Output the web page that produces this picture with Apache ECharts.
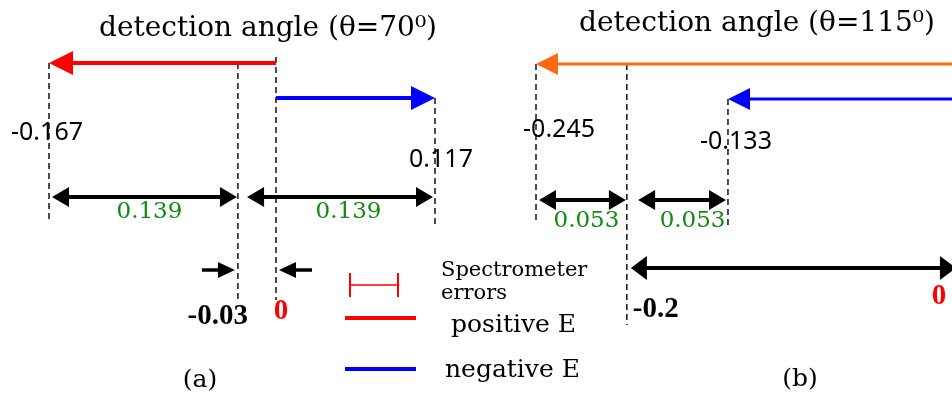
<!DOCTYPE html>
<html><head><meta charset="utf-8">
<script src="https://cdn.jsdelivr.net/npm/echarts@6/dist/echarts.min.js"></script>
<style>html,body{margin:0;padding:0;background:#fff}#c{width:952px;height:396px}</style>
</head><body><div id="c"></div>
<script>
// ---------------- data ----------------
const panelNames = ['(a)', '(b)'];
const detectionAngles = [70, 115];           // degrees
const positiveEdge = [-0.167, -0.245];       // end of positive-E arrow
const negativeEdge = [0.117, -0.133];        // end of negative-E arrow
const spectrometerError = [0.139, 0.053];    // width of error span
const shiftValues = [-0.03, -0.2];           // labelled shift
const zeroValue = [0, 0];

// ---------------- style / layout ----------------
const SERIF = "'DejaVu Serif', serif";
const SANS = "'Noto Sans', sans-serif";
const BSERIF = "'Liberation Serif', serif";
const RED = '#ff0000', BLUE = '#0000ff', ORANGE = '#ff6a10', GREEN = '#138a13';
const posColor = [RED, ORANGE];

// panel (b): the axis stops just short of 0 so the zero arrow tip runs off the right edge, as in the figure
const LAYOUT = [
  { left: 49, width: 386, min: positiveEdge[0], max: negativeEdge[0],
    rowPos: 63, rowNeg: 98, rowErr: 197, rowSmall: 270,
    dPos: [63, 220], dMeet: [63, 300], dZero: [57, 300], dNeg: [98, 225],
    posLab: [-2, 133], negLab: [6, 160], errLabY: 212, errDx: [6, 8], eW: 4, eHead: [24, 12],
    titleX: 268, titleY: 29, nameX: 200, nameY: 380 },
  { left: 536, width: 416, min: positiveEdge[1], max: zeroValue[1] - 0.0023,
    rowPos: 64, rowNeg: 99, rowErr: 200, rowLong: 268,
    dPos: [64, 222], dMeet: [64, 325], dZero: null, dNeg: [99, 228],
    posLab: [23, 130], negLab: [8, 142], errLabY: 221, errDx: [5, 10], eW: 3, eHead: [22, 11],
    titleX: 757, titleY: 24, nameX: 800, nameY: 379 }
];

function build(p) {
  const L = LAYOUT[p];
  const pos = positiveEdge[p], neg = negativeEdge[p], err = spectrometerError[p], zero = zeroValue[p];
  const meet = pos + err, negStart = neg - err;
  const origin = p === 0 ? zero : L.max;
  const m = [];
  m.push({k: 'dash', x: pos, y1: L.dPos[0], y2: L.dPos[1]});
  m.push({k: 'dash', x: meet, y1: L.dMeet[0], y2: L.dMeet[1]});
  if (L.dZero) m.push({k: 'dash', x: zero, y1: L.dZero[0], y2: L.dZero[1]});
  m.push({k: 'dash', x: neg, y1: L.dNeg[0], y2: L.dNeg[1]});
  m.push({k: 'arrow', x1: origin, x2: pos, y: L.rowPos, color: posColor[p], w: L.eW, head: L.eHead});
  m.push({k: 'arrow', x1: origin, x2: neg, y: L.rowNeg, color: BLUE, w: L.eW, head: L.eHead});
  m.push({k: 'arrow', x1: pos, x2: meet, y: L.rowErr, color: '#000', w: 4, head: [17, 10], both: true, inset: [3, 1]});
  m.push({k: 'arrow', x1: negStart, x2: neg, y: L.rowErr, color: '#000', w: 4, head: [17, 10], both: true, inset: [1, 2]});
  m.push({k: 'text', x: (pos + meet) / 2, dx: L.errDx[0], y: L.errLabY, text: String(err), font: '23px ' + SERIF, color: GREEN, align: 'center'});
  m.push({k: 'text', x: (negStart + neg) / 2, dx: L.errDx[1], y: L.errLabY, text: String(err), font: '23px ' + SERIF, color: GREEN, align: 'center'});
  m.push({k: 'text', x: pos, dx: L.posLab[0], y: L.posLab[1], text: String(pos), font: '25px ' + SANS, color: '#000', align: 'center'});
  m.push({k: 'text', x: neg, dx: L.negLab[0], y: L.negLab[1], text: String(neg), font: '25px ' + SANS, color: '#000', align: 'center'});
  if (p === 0) {
    m.push({k: 'pxArrow', x: meet, y: L.rowSmall, from: 'left', len: 33});
    m.push({k: 'pxArrow', x: zero, y: L.rowSmall, from: 'right', len: 33});
    m.push({k: 'text', x: meet, dx: 10, y: 317, text: String(shiftValues[p]), font: 'bold 29px ' + BSERIF, color: '#000', align: 'right'});
    m.push({k: 'text', x: zero, dx: 5, y: 312, text: String(zero), font: 'bold 29px ' + BSERIF, color: RED, align: 'center'});
  } else {
    m.push({k: 'arrow', x1: meet, x2: zero, y: L.rowLong, color: '#000', w: 4, head: [16, 12], both: true, inset: [4, 0]});
    m.push({k: 'text', x: meet, dx: 6, y: 310, text: String(shiftValues[p]), font: 'bold 29px ' + BSERIF, color: '#000', align: 'left'});
    m.push({k: 'text', x: zero, dx: -17, y: 297, text: String(zero), font: 'bold 29px ' + BSERIF, color: RED, align: 'center'});
  }
  return m;
}

function head(tip, dir, len, half, color) {
  return {type: 'polygon', shape: {points: [[tip[0], tip[1]], [tip[0] - dir * len, tip[1] - half], [tip[0] - dir * len, tip[1] + half]]},
          style: {fill: color}};
}

function renderMark(mk, api) {
  if (mk.k === 'dash') {
    const a = api.coord([mk.x, mk.y1]), b = api.coord([mk.x, mk.y2]);
    return {type: 'line', shape: {x1: a[0], y1: a[1], x2: b[0], y2: b[1]},
            style: {stroke: '#000', lineWidth: 1.4, lineDash: [6, 4]}};
  }
  if (mk.k === 'text') {
    const a = api.coord([mk.x, mk.y]);
    return {type: 'text', x: a[0] + (mk.dx || 0), y: a[1],
            style: {text: mk.text, font: mk.font, fill: mk.color, align: mk.align, verticalAlign: 'middle'}};
  }
  if (mk.k === 'pxArrow') {
    const a = api.coord([mk.x, mk.y]);
    const dir = mk.from === 'left' ? 1 : -1;
    const tip = [a[0] - dir * 3, a[1]];
    return {type: 'group', children: [
      {type: 'line', shape: {x1: tip[0] - dir * mk.len, y1: tip[1], x2: tip[0] - dir * 8, y2: tip[1]}, style: {stroke: '#000', lineWidth: 3.5}},
      head(tip, dir, 17, 8, '#000')
    ]};
  }
  // arrow
  const a = api.coord([mk.x1, mk.y]), b = api.coord([mk.x2, mk.y]);
  const dir = b[0] >= a[0] ? 1 : -1;
  const ins = mk.inset || [0, 0];
  const s = [a[0] + dir * ins[0], a[1]], t = [b[0] - dir * ins[1], b[1]];
  const len = mk.head[0], half = mk.head[1];
  const children = [];
  const ls = mk.both ? s[0] + dir * len * 0.6 : s[0];
  const le = t[0] - dir * len * 0.6;
  children.push({type: 'line', shape: {x1: ls, y1: s[1], x2: le, y2: t[1]}, style: {stroke: mk.color, lineWidth: mk.w}});
  children.push(head(t, dir, len, half, mk.color));
  if (mk.both) children.push(head(s, -dir, len, half, mk.color));
  return {type: 'group', children};
}

const marks = [build(0), build(1)];

const chart = echarts.init(document.getElementById('c'));
const option = {
  animation: false,
  backgroundColor: '#fff',
  grid: LAYOUT.map(L => ({left: L.left, width: L.width, top: 0, bottom: 0})),
  xAxis: LAYOUT.map((L, i) => ({type: 'value', gridIndex: i, min: L.min, max: L.max, show: false})),
  yAxis: LAYOUT.map((L, i) => ({type: 'value', gridIndex: i, min: 0, max: 396, inverse: true, show: false})),
  series: marks.map((mk, p) => ({
    type: 'custom', xAxisIndex: p, yAxisIndex: p, silent: true, clip: false,
    data: mk.map(m => [m.x !== undefined ? m.x : m.x1, m.y !== undefined ? m.y : m.y1]),
    renderItem: (params, api) => renderMark(mk[params.dataIndex], api)
  })),
  graphic: [
    ...LAYOUT.map((L, p) => ({type: 'text', x: L.titleX, y: L.titleY,
      style: {text: 'detection angle (θ=' + detectionAngles[p] + '⁰)', font: '28px ' + SERIF, fill: '#000', align: 'center', verticalAlign: 'middle'}})),
    ...LAYOUT.map((L, p) => ({type: 'text', x: L.nameX, y: L.nameY,
      style: {text: panelNames[p], font: '25px ' + SERIF, fill: '#000', align: 'center', verticalAlign: 'middle'}})),
    // legend
    {type: 'line', shape: {x1: 350, y1: 273, x2: 350, y2: 297}, style: {stroke: RED, lineWidth: 2}},
    {type: 'line', shape: {x1: 398, y1: 273, x2: 398, y2: 297}, style: {stroke: RED, lineWidth: 2}},
    {type: 'line', shape: {x1: 350, y1: 285, x2: 398, y2: 285}, style: {stroke: RED, lineWidth: 1.5}},
    {type: 'line', shape: {x1: 345, y1: 318, x2: 416, y2: 318}, style: {stroke: RED, lineWidth: 4}},
    {type: 'line', shape: {x1: 345, y1: 369, x2: 416, y2: 369}, style: {stroke: BLUE, lineWidth: 4}},
    {type: 'text', x: 441, y: 271, style: {text: 'Spectrometer', font: '21px ' + SERIF, fill: '#000', verticalAlign: 'middle'}},
    {type: 'text', x: 441, y: 294, style: {text: 'errors', font: '21px ' + SERIF, fill: '#000', verticalAlign: 'middle'}},
    {type: 'text', x: 451, y: 325, style: {text: 'positive E', font: '25px ' + SERIF, fill: '#000', verticalAlign: 'middle'}},
    {type: 'text', x: 445, y: 370, style: {text: 'negative E', font: '25px ' + SERIF, fill: '#000', verticalAlign: 'middle'}}
  ]
};
chart.setOption(option);
</script>
</body></html>
